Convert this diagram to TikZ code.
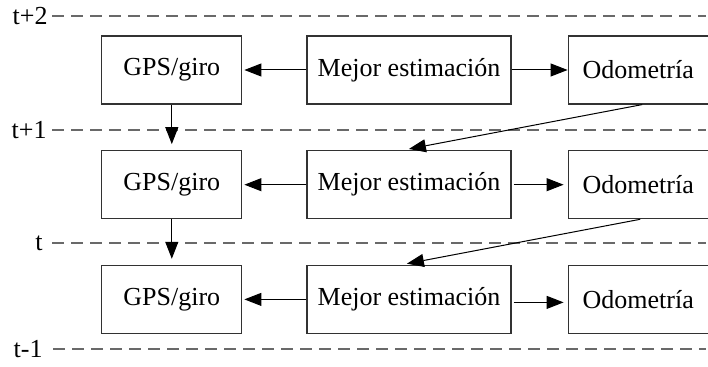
\documentclass[tikz,border=0pt]{standalone}
\usepackage{fontspec}
\setmainfont{Liberation Serif}
\usetikzlibrary{arrows.meta,positioning}
\definecolor{dashgray}{RGB}{105,105,105}
\definecolor{boxgray}{RGB}{50,50,50}

\begin{document}
\begin{tikzpicture}[x=0.5pt, y=-0.5pt,
    box/.style={draw=boxgray, line width=0.6pt, rectangle, minimum width=70pt, minimum height=34pt, font=\fontsize{13}{15}\selectfont},
    arr/.style={-{Triangle[length=8.5pt,width=6.5pt]}, line width=0.5pt},
    timeline/.style={dashgray, dash pattern=on 6pt off 3.5pt, line width=0.6pt},
    tlabel/.style={anchor=east, inner sep=0pt, font=\fontsize{13}{15}\selectfont}]
    \useasboundingbox (0,0) rectangle (708,367);

    % time steps
    \node[tlabel] (t2) at (48,16) {t+2};
    \node[tlabel] (t1) at (47,130) {t+1};
    \node[tlabel] (t0) at (43,243) {t};
    \node[tlabel] (tm1) at (43,349) {t-1};
    \coordinate (e2) at (706,16);
    \coordinate (e1) at (706,130);
    \coordinate (e0) at (706,243);
    \coordinate (em1) at (706,349);
    \draw[timeline] ([xshift=2pt]t2.east) -- (e2);
    \draw[timeline] ([xshift=2.5pt]t1.east) -- (e1);
    \draw[timeline] ([xshift=4.5pt]t0.east) -- (e0);
    \draw[timeline] ([xshift=5pt]tm1.east) -- (em1);

    % row t+2
    \node[box, minimum width=102pt] (best2) at (409,70) {Mejor estimación};
    \node[box, left=32pt of best2] (gps2) {GPS/giro};
    \node[box, right=28pt of best2] (odo2) {Odometría};

    % row t+1
    \node[box, minimum width=102pt, below=22.75pt of best2] (best1) {Mejor estimación};
    \node[box, left=32pt of best1] (gps1) {GPS/giro};
    \node[box, right=28pt of best1] (odo1) {Odometría};

    % row t
    \node[box, minimum width=102pt, below=22.75pt of best1] (best0) {Mejor estimación};
    \node[box, left=32pt of best0] (gps0) {GPS/giro};
    \node[box, right=28pt of best0] (odo0) {Odometría};

    % arrows
    \draw[arr, shorten >=1pt] (best2) -- (gps2);
    \draw[arr] (best2) -- (odo2);
    \draw[arr, shorten >=1pt] (best1) -- (gps1);
    \draw[arr, shorten <=1pt, shorten >=2pt] (best1) -- (odo1);
    \draw[arr, shorten >=1pt] (best0) -- (gps0);
    \draw[arr, shorten <=1pt, shorten >=2pt] ([yshift=-1.5pt]best0.east) -- ([yshift=-1.5pt]odo0.west);

    \draw[arr, shorten >=3pt] (gps2.south) -- (gps1.north);
    \draw[arr, shorten >=3pt] (gps1.south) -- (gps0.north);
    \draw[arr, shorten >=3pt] ([xshift=2pt]odo2.south) -- ([xshift=-3pt]best1.north);
    \draw[arr, shorten >=3pt] ([xshift=1pt]odo1.south) -- ([xshift=-4pt]best0.north);
\end{tikzpicture}
\end{document}
